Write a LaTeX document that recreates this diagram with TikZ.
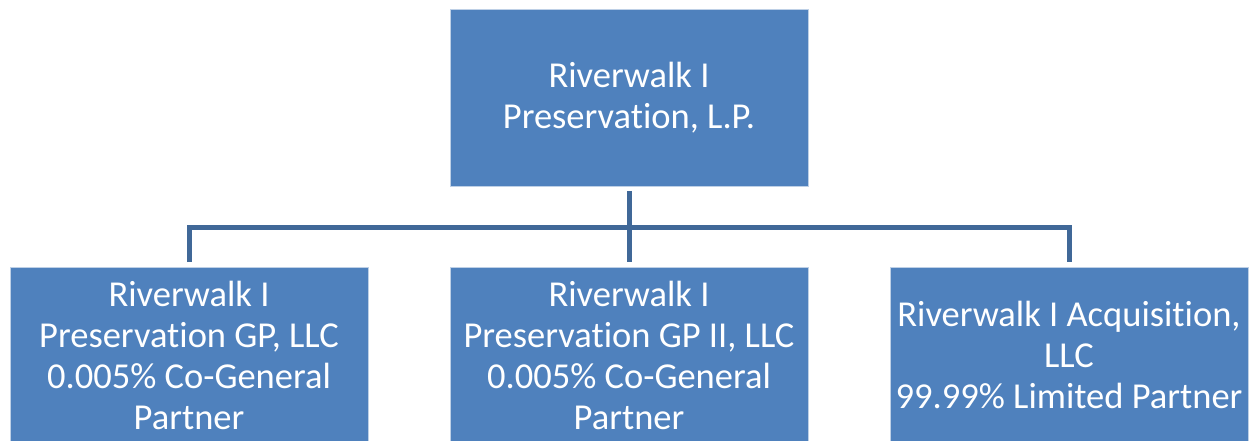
\documentclass[tikz,border=0pt]{standalone}
\usepackage{fontspec}
\setmainfont[Ligatures=NoCommon]{Carlito}
\definecolor{boxfill}{RGB}{79,129,189}
\definecolor{boxedge}{RGB}{190,208,230}
\definecolor{linecol}{RGB}{64,104,152}
\begin{document}
\begin{tikzpicture}[x=1pt,y=-1pt,
  orgbox/.style={rectangle, fill=boxfill, draw=boxedge, line width=0.8pt,
    minimum width=358pt, minimum height=177pt, inner sep=0pt,
    text=white, align=center, font=\fontsize{36.5}{41}\selectfont},
  conn/.style={draw=linecol, line width=5pt, line join=miter, shorten <=4.5pt, shorten >=4.5pt}]
\useasboundingbox (0,0) rectangle (1253,441);
\clip (0,0) rectangle (1253,441);
\node[orgbox] (top) at (629,97.5) {Riverwalk I\\Preservation, L.P.};
\node[orgbox, minimum height=176pt] (b1) at (189,355) {Riverwalk I\\Preservation GP, LLC\\0.005\% Co-General\\Partner};
\node[orgbox, minimum height=176pt] (b2) at (629,355) {Riverwalk I\\Preservation GP II, LLC\\0.005\% Co-General\\Partner};
\node[orgbox, minimum height=176pt] (b3) at (1069,355) {Riverwalk I Acquisition,\\LLC\\99.99\% Limited Partner};
\coordinate (bus) at (629,227);
\draw[conn] (top.south) -- (b2.north);
\draw[conn] (b1.north) |- (bus) -| (b3.north);
\end{tikzpicture}
\end{document}
